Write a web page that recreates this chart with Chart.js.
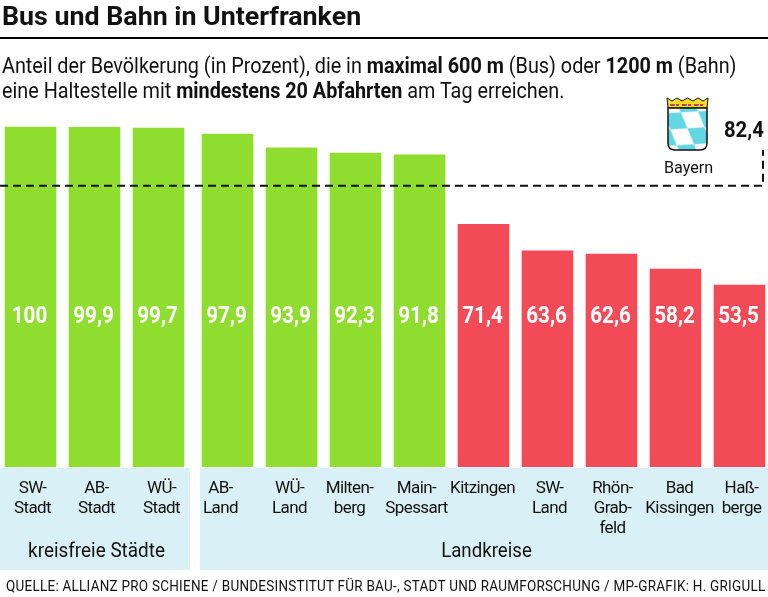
<!DOCTYPE html>
<html lang="de">
<head>
<meta charset="utf-8">
<style>
  html, body { margin: 0; padding: 0; background: #fff; }
  body { width: 768px; height: 597px; position: relative; overflow: hidden; color: #111; font-family: Roboto, sans-serif; }
  #myChart { position: absolute; left: 0; top: 0; }
  .headline, .intro, .source, .bayern, .bayern-value { position: absolute; white-space: nowrap; transform-origin: left top; }
  .headline { left: 2px; top: 0; font-size: 26px; line-height: 32px; font-weight: 700; transform: scaleX(1.03); }
  .rule { position: absolute; left: 0; top: 37px; width: 768px; height: 2px; background: #000; }
  .intro { left: 2px; top: 53px; font-size: 22px; line-height: 25px; transform: scaleX(0.9); }
  .bayern { left: 664px; top: 157px; font-size: 17px; line-height: 20px; transform: scaleX(0.95); }
  .bayern-value { left: 724px; top: 116px; font-size: 22px; line-height: 28px; font-weight: 700; transform: scaleX(0.92); }
  .source { left: 6px; top: 576px; font-size: 15px; line-height: 20px; letter-spacing: 0.3px; transform: scaleX(0.897); }
  #crest { position: absolute; left: 666px; top: 97px; }
</style>
</head>
<body>
<canvas id="myChart" width="768" height="597"></canvas>
<div class="headline">Bus und Bahn in Unterfranken</div>
<div class="rule"></div>
<div class="intro">Anteil der Bevölkerung (in Prozent), die in <b>maximal 600 m</b> (Bus) oder <b>1200 m</b> (Bahn)<br>eine Haltestelle mit <b>mindestens 20 Abfahrten</b> am Tag erreichen.</div>
<svg id="crest" width="44" height="56" viewBox="0 0 44 56">
  <defs>
    <clipPath id="shield"><path d="M2 11 H41 V46 Q41 53 34 53 H9 Q2 53 2 46 Z"/></clipPath>
    <pattern id="rauten" width="28" height="20" patternUnits="userSpaceOnUse" patternTransform="translate(3 8) rotate(32)">
      <path d="M14 0 L28 10 L14 20 L0 10 Z" fill="#62d6e2"/>
    </pattern>
  </defs>
  <path d="M1 1 L6 4 L11 1 L16 4 L21.500 1 L27 4 L32 1 L37 4 L42 1 L41 11 H2 Z" fill="#f5dc1e" stroke="#111" stroke-width="1"/>
  <path d="M4 8 H39" stroke="#e8303a" stroke-width="2" stroke-dasharray="3 3"/>
  <path d="M7 8 H39" stroke="#3a7fd0" stroke-width="2" stroke-dasharray="2 10"/>
  <g clip-path="url(#shield)">
    <rect x="2" y="11" width="39" height="42" fill="#fff"/>
    <rect x="2" y="11" width="39" height="42" fill="url(#rauten)"/>
  </g>
  <path d="M2 11 H41 V46 Q41 53 34 53 H9 Q2 53 2 46 Z" fill="none" stroke="#111" stroke-width="1.500"/>
</svg>
<div class="bayern">Bayern</div>
<div class="bayern-value">82,4</div>
<div class="source">QUELLE: ALLIANZ PRO SCHIENE / BUNDESINSTITUT FÜR BAU-, STADT UND RAUMFORSCHUNG / MP-GRAFIK: H. GRIGULL</div>

<script src="https://cdn.jsdelivr.net/npm/chart.js@4/dist/chart.umd.min.js"></script>
<script>
const categories = [
  ["SW-", "Stadt"], ["AB-", "Stadt"], ["WÜ-", "Stadt"],
  ["AB-", "Land"], ["WÜ-", "Land"], ["Milten-", "berg"], ["Main-", "Spessart"],
  ["Kitzingen"], ["SW-", "Land"], ["Rhön-", "Grab-", "feld"], ["Bad", "Kissingen"], ["Haß-", "berge"]
];
const shares = [100, 99.9, 99.7, 97.9, 93.9, 92.3, 91.8, 71.4, 63.6, 62.6, 58.2, 53.5];
const bayernShare = 82.4;
const cityCount = 3;   // kreisfreie Staedte come first
const greenCount = 7;  // above the Bayern line

const GREEN = "#8fdd2f";
const RED = "#f24b57";
const BAND = "#d9f0f6";
const PX_PER_SLOT = 64;

const slot = (i) => i + (i >= cityCount ? 5 / PX_PER_SLOT : 0);

// squeezed text, the original uses a condensed face
function narrowText(ctx, text, x, y, scaleX) {
  ctx.save();
  ctx.translate(x, y);
  ctx.scale(scaleX, 1);
  ctx.fillText(text, 0, 0);
  ctx.restore();
}

// light blue bands behind the labels
const bandPlugin = {
  id: "bands",
  beforeDraw(chart) {
    const { ctx } = chart;
    const top = chart.chartArea.bottom + 1;
    ctx.save();
    ctx.fillStyle = BAND;
    ctx.fillRect(0, top, 190, 102);
    ctx.fillRect(200, top, 568, 102);
    ctx.fillStyle = "#111";
    ctx.font = "21px Roboto";
    ctx.textAlign = "center";
    ctx.textBaseline = "middle";
    narrowText(ctx, "kreisfreie Städte", 96.500, 552, 0.9);
    narrowText(ctx, "Landkreise", 486.500, 552, 0.89);
    ctx.restore();
    ctx.letterSpacing = "-0.6px"; // for the tick labels
  },
};

// white values inside the bars and the dashed Bayern line
const overlayPlugin = {
  id: "overlay",
  afterDatasetsDraw(chart) {
    const { ctx, scales } = chart;
    const meta = chart.getDatasetMeta(0);
    ctx.save();
    ctx.letterSpacing = "0px";
    ctx.fillStyle = "#fff";
    ctx.font = "bold 24px Roboto";
    ctx.textAlign = "center";
    ctx.textBaseline = "middle";
    meta.data.forEach((bar, i) => {
      narrowText(ctx, String(shares[i]).replace(".", ","), bar.x - 1, 317, 0.86);
    });
    const y = scales.y.getPixelForValue(bayernShare) - 1;
    ctx.strokeStyle = "#111";
    ctx.lineWidth = 2;
    ctx.setLineDash([8, 5]);
    ctx.beginPath();
    ctx.moveTo(0, y);
    ctx.lineTo(763, y);
    ctx.lineTo(763, 150);
    ctx.stroke();
    ctx.restore();
  },
};

const myChart = new Chart(document.getElementById("myChart"), {
  type: "bar",
  data: {
    datasets: [
      {
        data: shares.map((v, i) => ({ x: slot(i), y: v })),
        backgroundColor: shares.map((v, i) => (i < greenCount ? GREEN : RED)),
        barThickness: 51,
        borderWidth: 0,
      },
    ],
  },
  options: {
    responsive: false,
    animation: false,
    layout: { padding: 0 },
    scales: {
      x: {
        type: "linear",
        offset: false,
        min: -30.5 / PX_PER_SLOT,
        max: 737.5 / PX_PER_SLOT,
        grid: { display: false },
        border: { display: false },
        afterBuildTicks(axis) {
          // the labels do not sit exactly under their bars in the original
          const nudge = [2, 2, 3, -7, -2, -6, -3, -1, 2, 1, 4, 2];
          axis.ticks = categories.map((c, i) => ({ value: slot(i) + nudge[i] / PX_PER_SLOT }));
        },
        ticks: {
          autoSkip: false,
          maxRotation: 0,
          padding: 4,
          color: "#111",
          font: { family: "Roboto", size: 17, lineHeight: 1.18 },
          callback(value, index) {
            return categories[index];
          },
        },
        afterFit(axis) {
          axis.height = 130;
        },
      },
      y: {
        display: false,
        min: 0,
        max: 137.35,
      },
    },
    plugins: {
      legend: { display: false },
      tooltip: { enabled: false },
    },
  },
  plugins: [bandPlugin, overlayPlugin],
});
</script>
</body>
</html>
